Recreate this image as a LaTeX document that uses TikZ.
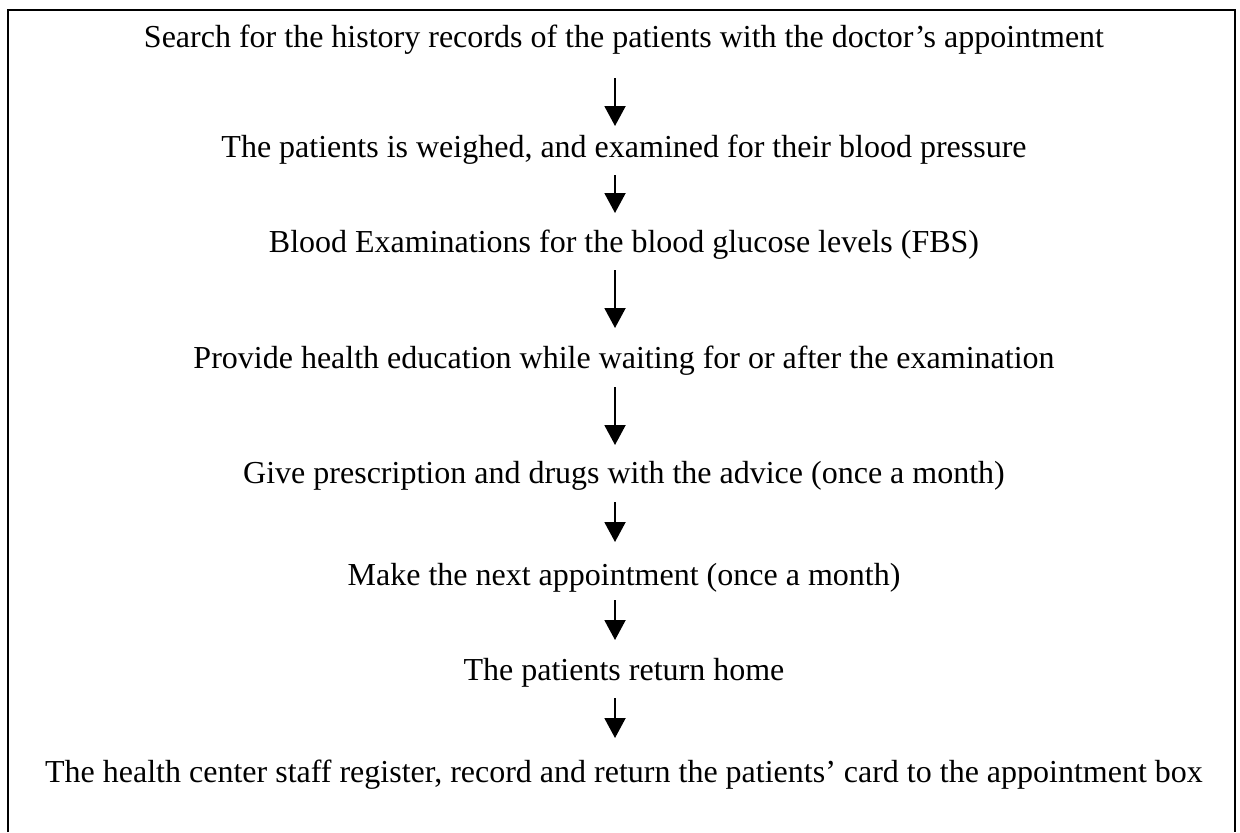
\documentclass[tikz,border=0pt]{standalone}
\usepackage{fontspec}
\setmainfont{Liberation Serif}
\usetikzlibrary{arrows.meta,calc}
\begin{document}
\begin{tikzpicture}[x=0.5pt,y=-0.5pt,
  txt/.style={anchor=base,inner sep=0pt,font=\fontsize{16}{19}\selectfont},
  arr/.style={line width=1pt,-{Triangle[width=10.5pt,length=10pt]}},
  frame/.style={line width=1.1pt}]
\useasboundingbox (0,0) rectangle (1240,832);
\draw[frame] (8,832) -- (8,10) -- (1235,10) -- (1235,832);
\node[txt] (t1) at (624,47) {Search for the history records of the patients with the doctor’s appointment};
\node[txt] (t2) at (624,157) {The patients is weighed, and examined for their blood pressure};
\node[txt] (t3) at (624,252) {Blood Examinations for the blood glucose levels (FBS)};
\node[txt] (t4) at (624,368) {Provide health education while waiting for or after the examination};
\node[txt] (t5) at (624,483) {Give prescription and drugs with the advice (once a month)};
\node[txt] (t6) at (624,585) {Make the next appointment (once a month)};
\node[txt] (t7) at (624,680) {The patients return home};
\node[txt] (t8) at (624,782) {The health center staff register, record and return the patients’ card to the appointment box};
\draw[arr] ($(t1.base)+(-9,31)$) -- ($(t2.base)+(-9,-31)$);
\draw[arr] ($(t2.base)+(-9,18)$) -- ($(t3.base)+(-9,-39)$);
\draw[arr] ($(t3.base)+(-9,18)$) -- ($(t4.base)+(-9,-40)$);
\draw[arr] ($(t4.base)+(-9,19)$) -- ($(t5.base)+(-9,-38)$);
\draw[arr] ($(t5.base)+(-9,19)$) -- ($(t6.base)+(-9,-43)$);
\draw[arr] ($(t6.base)+(-9,15)$) -- ($(t7.base)+(-9,-40)$);
\draw[arr] ($(t7.base)+(-9,18)$) -- ($(t8.base)+(-9,-44)$);
\end{tikzpicture}
\end{document}
